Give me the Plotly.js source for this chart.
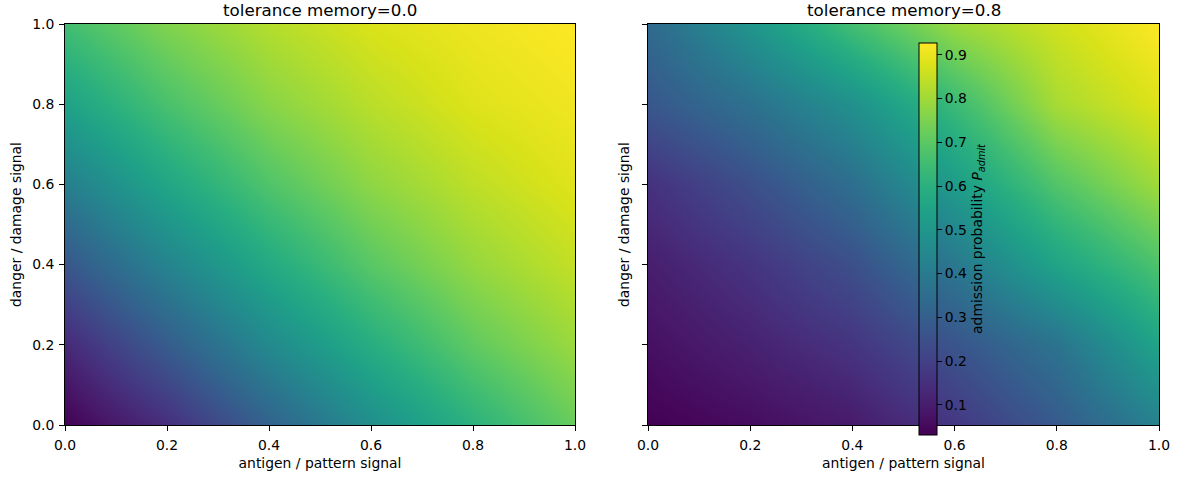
<!DOCTYPE html>
<html>
<head>
<meta charset="utf-8">
<script src="https://cdn.plot.ly/plotly-3.0.1.min.js"></script>
<style>html,body{margin:0;padding:0;background:#fff;}#chart{width:1180px;height:478px;}</style>
</head>
<body>
<div id="chart"></div>
<script>
// grid coordinates (cell centres) shared by both panels
const antigenSignal = [0.0, 0.2, 0.4, 0.6, 0.8, 1.0];
const dangerSignal  = [0.0, 0.2, 0.4, 0.6, 0.8, 1.0];

// admission probability, rows = danger signal (bottom to top), cols = antigen signal
const pAdmitMemory00 = [
  [0.031, 0.147, 0.309, 0.470, 0.604, 0.721],
  [0.132, 0.289, 0.453, 0.589, 0.708, 0.793],
  [0.270, 0.431, 0.574, 0.696, 0.785, 0.847],
  [0.412, 0.560, 0.682, 0.776, 0.840, 0.886],
  [0.544, 0.669, 0.768, 0.834, 0.883, 0.909],
  [0.655, 0.757, 0.827, 0.878, 0.906, 0.927]
];
const pAdmitMemory08 = [
  [0.031, 0.058, 0.094, 0.174, 0.282, 0.425],
  [0.067, 0.112, 0.165, 0.264, 0.371, 0.551],
  [0.103, 0.165, 0.246, 0.389, 0.551, 0.676],
  [0.156, 0.246, 0.354, 0.524, 0.685, 0.802],
  [0.273, 0.363, 0.479, 0.640, 0.811, 0.882],
  [0.336, 0.497, 0.658, 0.793, 0.864, 0.927]
];
const panelTitles = ['tolerance memory=0.0', 'tolerance memory=0.8'];
const axisTicks = [0.0, 0.2, 0.4, 0.6, 0.8, 1.0];
const colorbarTicks = [0.1, 0.2, 0.3, 0.4, 0.5, 0.6, 0.7, 0.8, 0.9];

const FONT = 'DejaVu Sans, Liberation Sans, sans-serif';

const traces = [
  {type: 'heatmap', x: antigenSignal, y: dangerSignal, z: pAdmitMemory00,
   zsmooth: 'best', coloraxis: 'coloraxis', xaxis: 'x', yaxis: 'y', hoverinfo: 'skip'},
  {type: 'heatmap', x: antigenSignal, y: dangerSignal, z: pAdmitMemory08,
   zsmooth: 'best', coloraxis: 'coloraxis', xaxis: 'x2', yaxis: 'y2', hoverinfo: 'skip'}
];

function xAxis(domain, anchor) {
  return {
    domain: domain, anchor: anchor, range: [0, 1], tickvals: axisTicks, tickformat: '.1f',
    ticks: 'outside', ticklen: 5, tickwidth: 1, tickcolor: '#000',
    showline: true, mirror: true, linecolor: '#000', linewidth: 1,
    showgrid: false, zeroline: false, ticklabelstandoff: 2,
    tickfont: {family: FONT, size: 13.9, color: '#000'},
    title: {text: 'antigen / pattern signal', standoff: 6, font: {family: FONT, size: 13.9, color: '#000'}}
  };
}
function yAxis(anchor, labels) {
  return {
    domain: [0, 1], anchor: anchor, range: [0, 1], tickvals: axisTicks, tickformat: '.1f',
    ticks: 'outside', ticklen: 5, tickwidth: 1, tickcolor: '#000', showticklabels: labels,
    showline: true, mirror: true, linecolor: '#000', linewidth: 1,
    showgrid: false, zeroline: false, ticklabelstandoff: 2,
    tickfont: {family: FONT, size: 13.9, color: '#000'},
    title: {text: 'danger / damage signal', standoff: labels ? 7 : 9, font: {family: FONT, size: 13.9, color: '#000'}}
  };
}

const plotW = 1180 - 65 - 21, plotH = 478 - 24 - 53;
const layout = {
  width: 1180, height: 478,
  margin: {l: 65, r: 21, t: 24, b: 53, pad: 0},
  paper_bgcolor: '#fff', plot_bgcolor: '#fff',
  font: {family: FONT, size: 13.9, color: '#000'},
  showlegend: false,
  xaxis: xAxis([0, 510 / plotW], 'y'),
  yaxis: yAxis('x', true),
  xaxis2: xAxis([(648 - 65) / plotW, 1], 'y2'),
  yaxis2: yAxis('x2', false),
  coloraxis: {
    colorscale: 'Viridis', cmin: 0.031, cmax: 0.927,
    colorbar: {
      x: (919 - 65) / plotW, xanchor: 'left', xpad: 0, ypad: 0,
      y: (425 - 239) / plotH, yanchor: 'middle',
      len: 392, lenmode: 'pixels', thickness: 18, thicknessmode: 'pixels',
      outlinewidth: 1, outlinecolor: '#000',
      tickvals: colorbarTicks, tickformat: '.1f', ticks: 'outside', ticklen: 5, tickwidth: 1, tickcolor: '#000',
      tickprefix: '\u2002',
      tickfont: {family: FONT, size: 13.9, color: '#000'},
      title: {text: 'admission probability <i>P</i><sub><i>admit</i></sub>', side: 'right',
              font: {family: FONT, size: 13.9, color: '#000'}}
    }
  },
  annotations: panelTitles.map((t, i) => ({
    text: t, xref: 'paper', yref: 'paper', showarrow: false,
    x: i === 0 ? (320 - 65) / plotW : (903.5 - 65) / plotW, xanchor: 'center',
    y: (425 - 10) / plotH, yanchor: 'middle',
    font: {family: FONT, size: 16.7, color: '#000'}
  }))
};

Plotly.newPlot('chart', traces, layout, {displayModeBar: false, staticPlot: true});
</script>
</body>
</html>
